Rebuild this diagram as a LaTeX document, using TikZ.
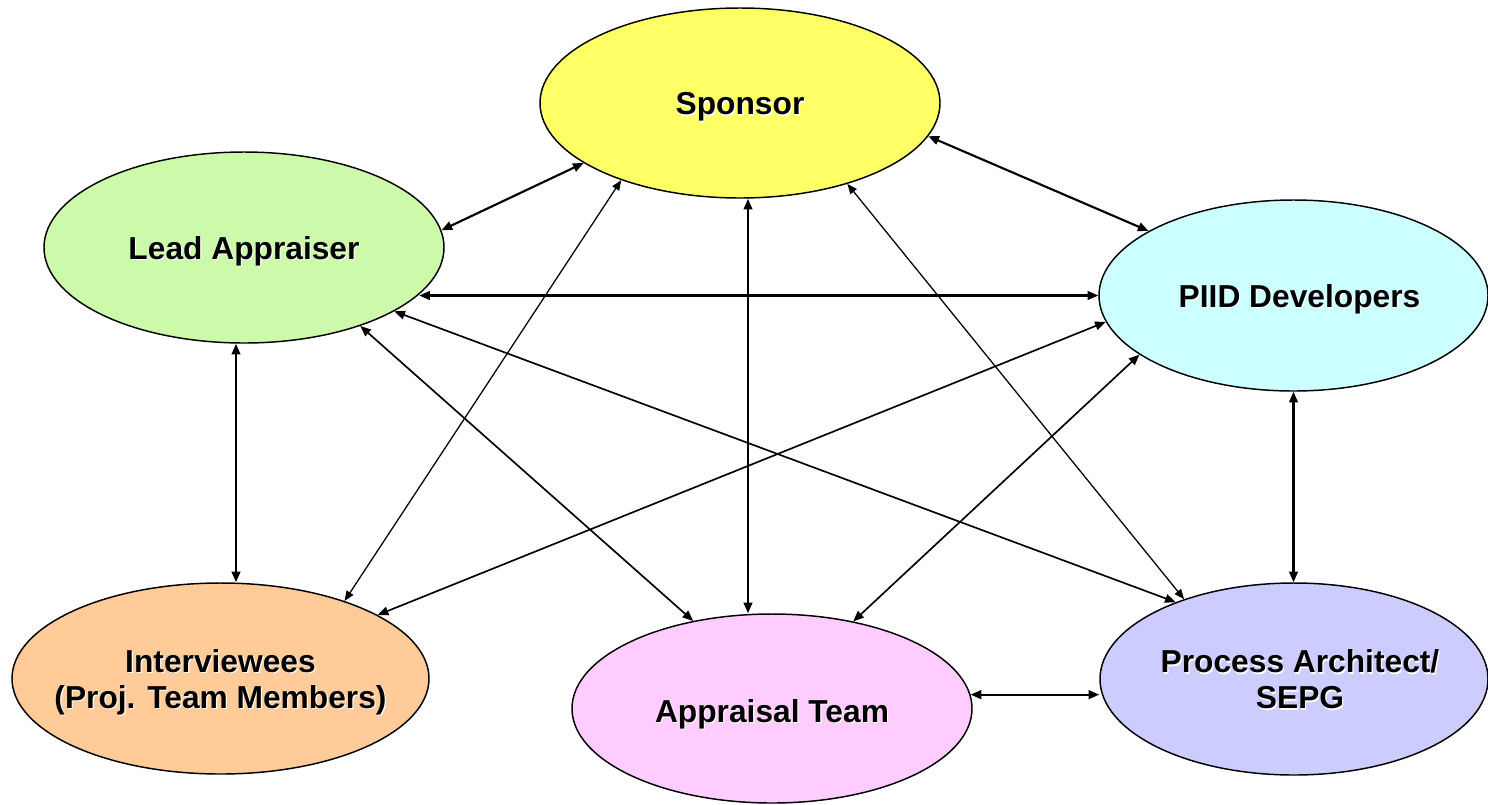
\documentclass[tikz,border=0pt]{standalone}
\usepackage{fontspec}
\setmainfont{Liberation Sans}
\usetikzlibrary{arrows.meta,shapes.geometric}
\definecolor{cSpon}{RGB}{255,255,102}
\definecolor{cLead}{RGB}{204,250,170}
\definecolor{cPiid}{RGB}{204,255,255}
\definecolor{cInt}{RGB}{255,204,153}
\definecolor{cApp}{RGB}{255,204,255}
\definecolor{cProc}{RGB}{204,204,255}
\newcommand{\shtxt}[1]{\makebox[0pt][l]{\raisebox{-0.9pt}{\hspace{0.9pt}\textcolor{white}{#1}}}#1}
\newcommand{\ctext}[2][7pt]{\makebox[0pt][c]{\raisebox{0pt}[\dimexpr\height+#1\relax][\depth]{\begin{tabular}{@{}c@{}}#2\end{tabular}}}}
\tikzset{
  role/.style={ellipse, draw=black, line width=1.1pt, inner sep=0pt,
    font=\fontsize{23.8}{27}\selectfont\bfseries},
  dbl/.style={<->, >={Triangle[length=8pt,width=6.5pt]}, line width=1.6pt},
  dblmed/.style={<->, >={Triangle[length=8pt,width=6.5pt]}, line width=1.25pt},
  dblthin/.style={<->, >={Triangle[length=7.5pt,width=6pt]}, line width=0.95pt},
}
\begin{document}
\begin{tikzpicture}[x=0.75pt,y=-0.75pt]
\useasboundingbox (0,0) rectangle (1488,804);
\node[role, fill=cSpon, minimum width=300pt, minimum height=142.5pt] (sponsor) at (740,103) {\ctext{\shtxt{Sponsor}}};
\node[role, fill=cLead, minimum width=300pt, minimum height=143.25pt] (lead) at (244,247.5) {\ctext{\shtxt{Lead Appraiser}}};
\node[role, fill=cPiid, minimum width=291.75pt, minimum height=143.25pt] (piid) at (1293.5,295.5) {\ctext{\hspace{9pt}\shtxt{PIID Developers}}};
\node[role, fill=cInt, minimum width=312.75pt, minimum height=143.25pt] (interviewees) at (220.5,678.5) {\ctext{\shtxt{Interviewees}\\\shtxt{(Proj. Team Members)}}};
\node[role, fill=cApp, minimum width=300pt, minimum height=141.75pt] (appraisal) at (772,708.5) {\ctext[10pt]{\shtxt{Appraisal Team}}};
\node[role, fill=cProc, minimum width=291pt, minimum height=144pt] (process) at (1294,679) {\ctext{\hspace{9pt}\shtxt{Process Architect/}\\\hspace{9pt}\shtxt{SEPG}}};

\draw[dbl] (lead.5.5) -- (sponsor.201.2);
\draw[dbl] (sponsor.350.2) -- (piid.156);
\draw[dbl] (piid.west) -- (lead.345.5 |- piid.west);
\draw[dbl] ([xshift=6pt]sponsor.south) -- ([xshift=6pt]sponsor.south |- appraisal.north);
\draw[dbl] ([xshift=-6pt]lead.south) -- ([xshift=-6pt]lead.south |- interviewees.north);
\draw[dbl] (piid.south) -- (piid.south |- process.north);
\draw[dbl] (appraisal.4.2) -- (appraisal.4.2 -| process.west);

\draw[dblthin] (sponsor.213.7) -- (interviewees.32.1);
\draw[dblthin] (sponsor.323) -- (process.144.4);

\draw[dblmed] (lead.326) -- (appraisal.132);
\draw[dblmed] (lead.337.5) -- (process.147.9);
\draw[dblmed] (piid.188.9) -- (interviewees.22.2);
\draw[dblmed] (piid.201) -- (appraisal.47.6);
\end{tikzpicture}
\end{document}
